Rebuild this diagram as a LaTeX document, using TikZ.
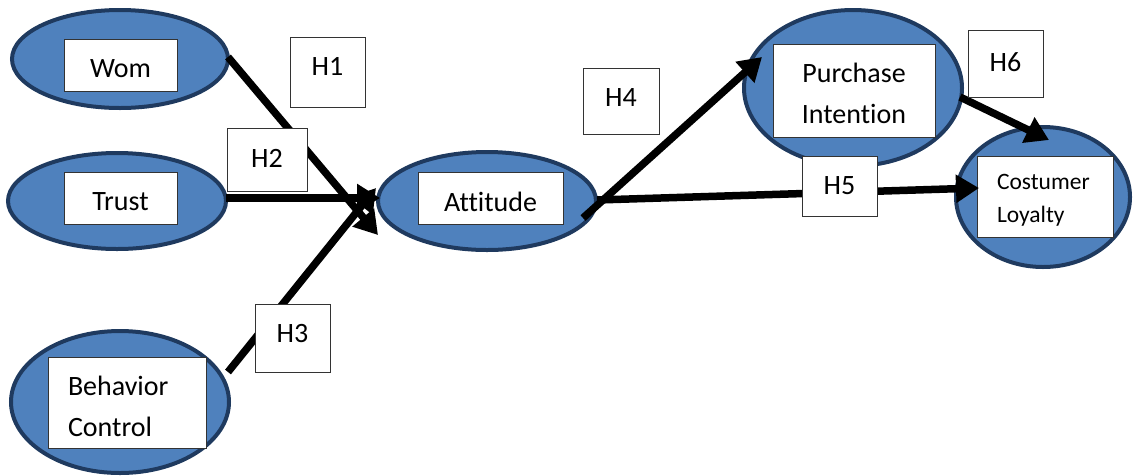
\documentclass[tikz,border=0pt]{standalone}
\usepackage{fontspec}
\setmainfont{Carlito}[Ligatures=NoCommon]
\usetikzlibrary{arrows.meta,shapes.geometric}
\definecolor{ovalfill}{HTML}{4F81BD}
\definecolor{ovaledge}{HTML}{1F3A5F}
\tikzset{
  oval/.style={ellipse, draw=ovaledge, line width=4pt, fill=ovalfill, inner sep=0pt},
  namebox/.style={draw=black!80, line width=1pt, fill=white, inner sep=0pt},
  nametext/.style={inner sep=0pt, font=\fontsize{28}{41}\selectfont},
  hbox/.style={draw=black!80, line width=1pt, fill=white, inner sep=0pt},
  htext/.style={inner sep=0pt, font=\fontsize{28}{30}\selectfont},
  link/.style={line width=7.5pt, -{Triangle[length=23pt,width=27pt]}},
}
\begin{document}
\begin{tikzpicture}[x=1pt,y=-1pt]
\useasboundingbox (0,0) rectangle (1134,475);

% construct ovals
\node[oval, minimum width=216pt, minimum height=98pt] (wom) at (120,59) {};
\node[oval, minimum width=218pt, minimum height=96pt] (trust) at (117,201) {};
\node[oval, minimum width=218pt, minimum height=142pt] (beh) at (120,402) {};
\node[oval, minimum width=218pt, minimum height=98pt] (att) at (487,201) {};
\node[oval, minimum width=218pt, minimum height=156pt] (pi) at (853,88) {};
\node[oval, minimum width=174pt, minimum height=140pt] (cl) at (1043,197) {};

% white boxes for construct names
\node[namebox, minimum width=113pt, minimum height=52pt] (womB) at (120.5,65) {};
\node[namebox, minimum width=113pt, minimum height=52pt] (trustB) at (120.5,198) {};
\node[namebox, minimum width=158pt, minimum height=91pt] (behB) at (127,402.5) {};
\node[namebox, minimum width=145pt, minimum height=52pt] (attB) at (490.5,198) {};
\node[namebox, minimum width=162pt, minimum height=93pt] (piB) at (854,90.5) {};
\node[namebox, minimum width=136pt, minimum height=81pt] (clB) at (1045,196.5) {};

% construct names
\node[nametext, yshift=-3.5pt] (womT) at (womB) {Wom};
\node[nametext, yshift=-3.5pt] (trustT) at (trustB) {Trust};
\node[nametext, yshift=-4pt, text width=118pt, align=left] (behT) at (behB) {Behavior\\Control};
\node[nametext, yshift=-3.5pt] (attT) at (attB) {Attitude};
\node[nametext, yshift=-3pt, align=center] (piT) at (piB) {Purchase\\Intention};
\node[nametext, yshift=-4pt, text width=96pt, align=left,
      font=\fontsize{23.5}{33}\selectfont] (clT) at (clB) {Costumer\\Loyalty};

% arrow end points
\coordinate (womOut) at (228,57);
\coordinate (womIn) at (378,235);
\coordinate (trustOut) at (226,198);
\coordinate (trustIn) at (380,198);
\coordinate (behOut) at (228,372);
\coordinate (behIn) at (376,188);
\coordinate (attOut) at (583,218);
\coordinate (piIn) at (762,57);
\coordinate (attEast) at (597,200);
\coordinate (clIn) at (979,188);
\coordinate (piOut) at (960,97);
\coordinate (clTop) at (1049,140);

% paths
\draw[link] (womOut) -- (womIn);
\draw[link] (trustOut) -- (trustIn);
\draw[link] (behOut) -- (behIn);
\draw[link] (attOut) -- (piIn);
\draw[link] (attEast) -- (clIn);
\draw[link] (piOut) -- (clTop);

% hypothesis labels
\node[hbox, minimum width=75pt, minimum height=70pt] (h1) at (327.5,72) {};
\node[hbox, minimum width=80pt, minimum height=63pt] (h2) at (267,159.5) {};
\node[hbox, minimum width=75pt, minimum height=68pt] (h3) at (292.5,338) {};
\node[hbox, minimum width=76pt, minimum height=66pt] (h4) at (621,101) {};
\node[hbox, minimum width=75pt, minimum height=60pt] (h5) at (839.5,186) {};
\node[hbox, minimum width=75pt, minimum height=67pt] (h6) at (1005.5,63.5) {};
\node[htext, yshift=6pt] (h1t) at (h1) {H1};
\node[htext, yshift=1.5pt] (h2t) at (h2) {H2};
\node[htext, yshift=4pt] (h3t) at (h3) {H3};
\node[htext, yshift=3pt] (h4t) at (h4) {H4};
\node[htext] (h5t) at (h5) {H5};
\node[htext, yshift=1.5pt] (h6t) at (h6) {H6};
\end{tikzpicture}
\end{document}
